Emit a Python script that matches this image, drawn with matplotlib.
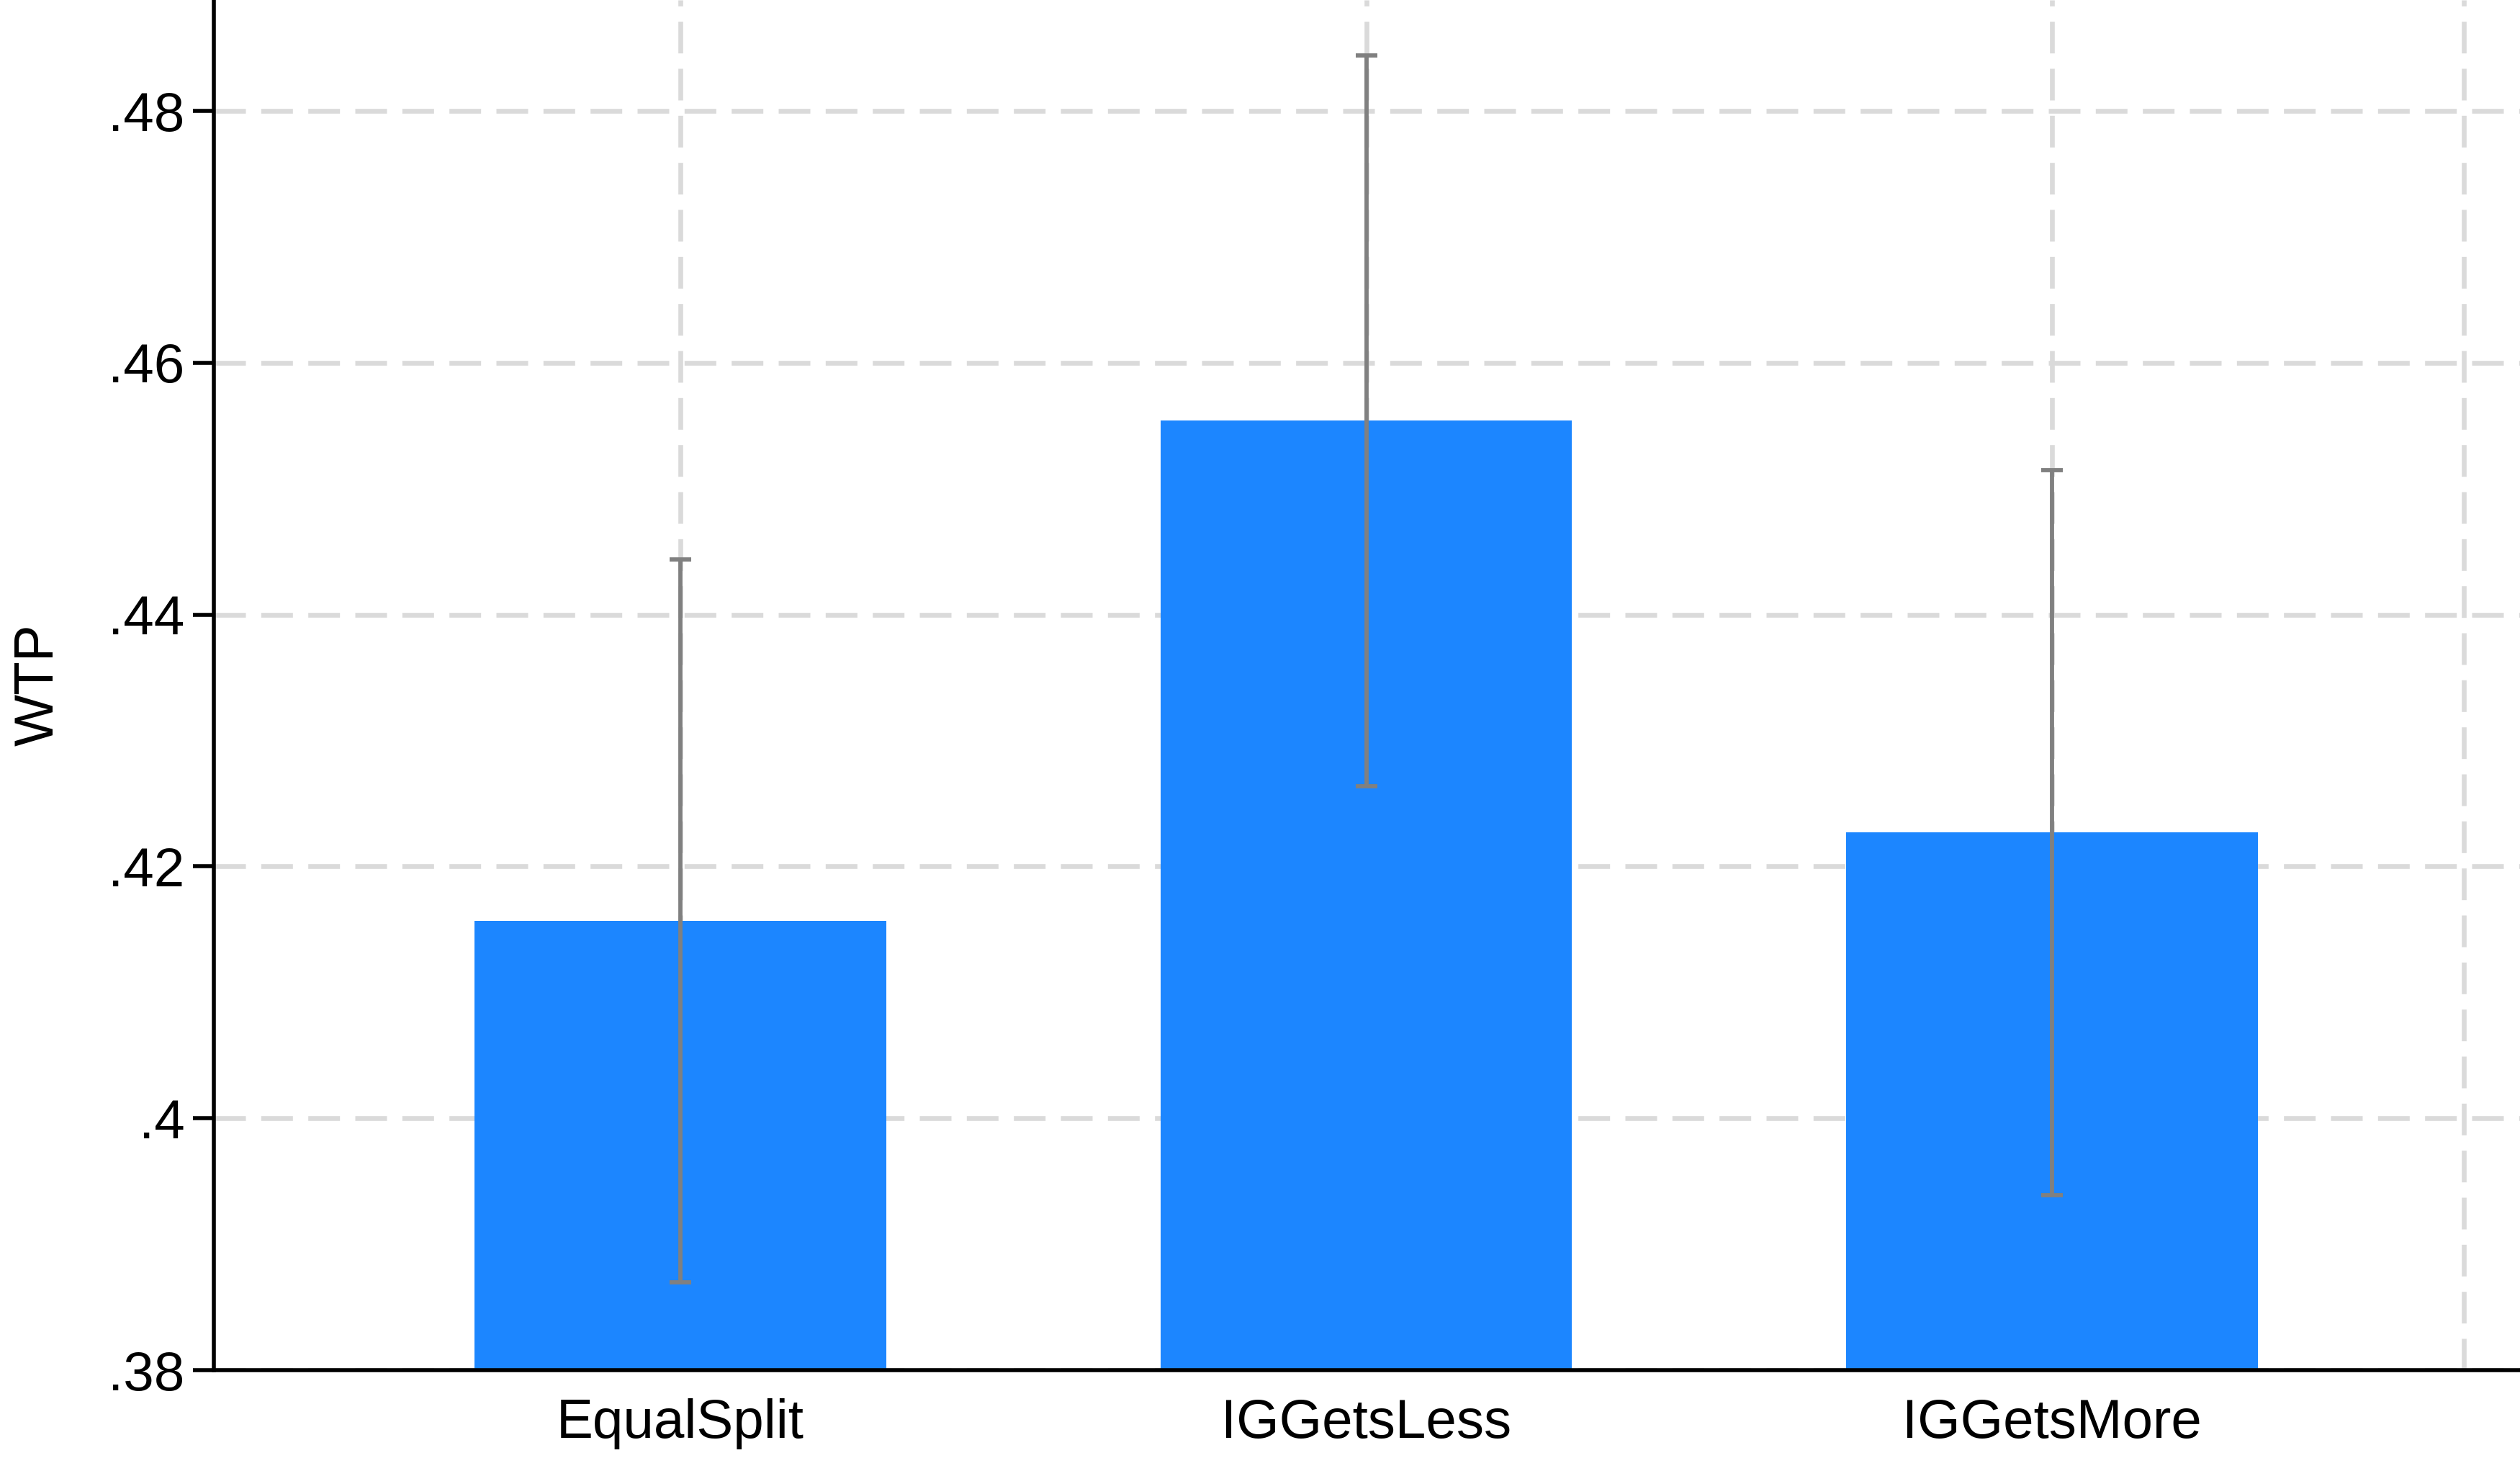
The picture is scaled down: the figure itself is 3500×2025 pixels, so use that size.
import matplotlib
matplotlib.use("Agg")
import matplotlib.pyplot as plt
import numpy as np

# ---- data ----
categories = ["EqualSplit", "IGGetsLess", "IGGetsMore"]
wtp_mean = [0.4157, 0.4554, 0.4227]
ci_low = [0.3870, 0.4264, 0.3939]
ci_high = [0.4444, 0.4844, 0.4515]
y_ticks = [0.38, 0.40, 0.42, 0.44, 0.46, 0.48]
y_tick_labels = [".38", ".4", ".42", ".44", ".46", ".48"]
y_label = "WTP"

plt.rcParams['font.family'] = ['Liberation Sans', 'DejaVu Sans']

DPI = 200
fig = plt.figure(figsize=(3500 / DPI, 2025 / DPI), dpi=DPI)
ax = fig.add_axes([297 / 3500, 122 / 2025, 1 - 297 / 3500, 1 - 122 / 2025])

x = np.arange(1, len(categories) + 1)
grid_kw = dict(color="#dadada", lw=2.4, dashes=(6.6, 3.2), zorder=0.5)

# gridlines
for yt in y_ticks:
    ax.axhline(yt, **grid_kw)
for xv in list(x) + [3.6]:
    ax.axvline(xv, **grid_kw)

ax.bar(x, np.array(wtp_mean) - 0.38, bottom=0.38, width=0.6, color="#1c86ff", zorder=2)

mean = np.array(wtp_mean)
yerr = np.vstack([mean - np.array(ci_low), np.array(ci_high) - mean])
eb = ax.errorbar(x, mean, yerr=yerr, fmt="none", ecolor="#808080", elinewidth=2.1,
                 capsize=5.3, capthick=2.1, zorder=3)
for c in eb[1]:
    c.set_solid_capstyle("round")

ax.set_xlim(0.32, 3.682)
ax.set_ylim(0.38, 0.48881)

ax.set_yticks(y_ticks)
ax.set_yticklabels(y_tick_labels, fontsize=27.5)
ax.set_xticks(x)
ax.set_xticklabels(categories, fontsize=27.5)
ax.tick_params(axis="y", length=10.5, width=2.0, pad=4, direction="out")
ax.tick_params(axis="x", length=0, pad=14)
ax.set_ylabel(y_label, fontsize=27.5, labelpad=22)

for s in ["top", "right"]:
    ax.spines[s].set_visible(False)
for s in ["left", "bottom"]:
    ax.spines[s].set_linewidth(2.0)
    ax.spines[s].set_zorder(5)

fig.savefig("out.png", dpi=DPI, facecolor="white")
